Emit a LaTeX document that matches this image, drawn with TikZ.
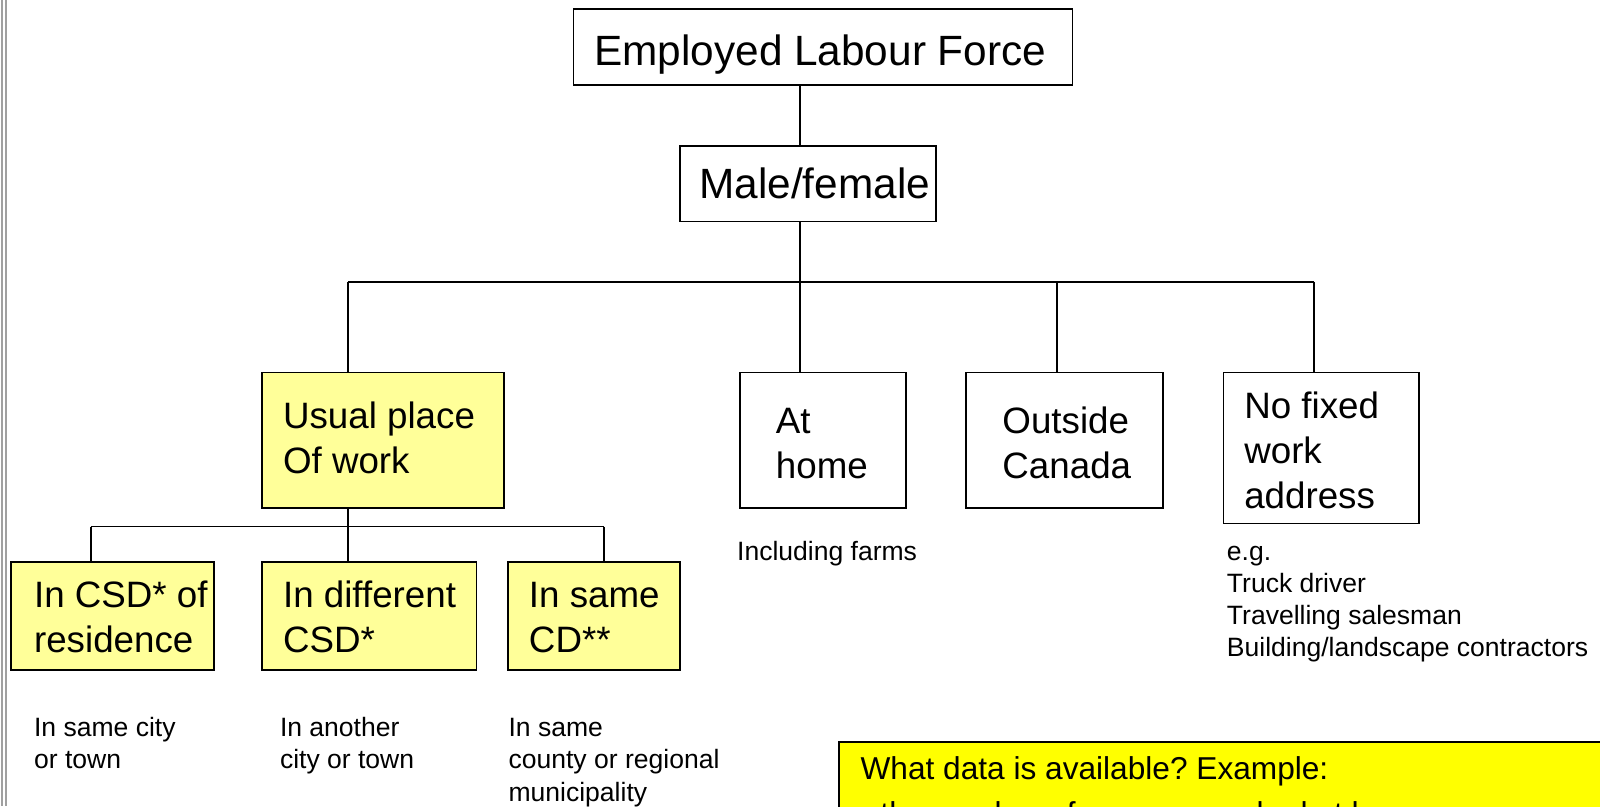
\documentclass[tikz,border=0pt]{standalone}
\usepackage{fontspec}
\setmainfont{Liberation Sans}
\frenchspacing
\usetikzlibrary{fit}
\definecolor{lightyel}{HTML}{FFFF99}
\definecolor{noteyel}{HTML}{FFFF00}
\definecolor{edgegrey}{HTML}{A0A0A0}
\tikzset{
  boxnode/.style={draw=black, line width=0.9pt, inner sep=0pt},
  yelbox/.style={boxnode, fill=lightyel},
  bigtxt/.style={font=\fontsize{20.75pt}{22pt}\selectfont, inner sep=0pt, anchor=base west},
  medtxt/.style={font=\fontsize{18pt}{22pt}\selectfont, inner sep=0pt, anchor=base west},
  smalltxt/.style={font=\fontsize{13pt}{15.75pt}\selectfont, inner sep=0pt, anchor=base west},
  notetxt/.style={font=\fontsize{15.5pt}{22pt}\selectfont, inner sep=0pt, anchor=base west},
  conn/.style={line width=0.9pt},
}
% #1 style, #2 name prefix, #3 x, #4 first baseline, #5 line step, #6 lines
\newcommand\txtlines[6]{%
  \foreach \l [count=\i from 0] in {#6} {
    \node[#1] (#2-\i) at (#3, #4+\i*#5) {\l};
  }%
}
\begin{document}
\begin{tikzpicture}[x=0.5pt, y=-0.5pt]
\clip (0,0) rectangle (1568,790);
\useasboundingbox (0,0) rectangle (1568,790);

% left edge grey double line
\draw[edgegrey, line width=0.8pt] (1.8,0) -- (1.8,790);
\draw[edgegrey, line width=0.8pt] (5.8,0) -- (5.8,790);

% boxes
\node[boxnode, fit={(562,9) (1051,83)}] (title) {};
\node[boxnode, fit={(666,143) (917,217)}] (male) {};
\node[yelbox, fit={(257,365) (494,498)}] (usual) {};
\node[boxnode, fit={(725,365) (888,498)}] (athome) {};
\node[boxnode, fit={(947,365) (1140,498)}] (outside) {};
\node[boxnode, fit={(1199,365) (1391,513)}] (nofixed) {};
\node[yelbox, fit={(11,551) (210,657)}] (csd) {};
\node[yelbox, fit={(257,551) (467,657)}] (diff) {};
\node[yelbox, fit={(498,551) (666,657)}] (same) {};
\node[boxnode, fill=noteyel, fit={(822,727) (1590,840)}] (note) {};

% box texts
\txtlines{bigtxt}{tt}{582}{64}{44}{Employed Labour Force}
\txtlines{bigtxt}{mt}{685}{195}{44}{Male/female}
\txtlines{medtxt}{ut}{277}{420}{44}{Usual place, Of work}
\txtlines{medtxt}{at}{760}{425}{44}{At, home}
\txtlines{medtxt}{ot}{982}{425}{44}{Outside, Canada}
\txtlines{medtxt}{nt}{1219}{410}{44}{No fixed, work, address}
\txtlines{medtxt}{ct}{33}{595}{44}{In CSD* of, residence}
\txtlines{medtxt}{dt}{277}{595}{44}{In different, CSD*}
\txtlines{medtxt}{st}{518}{595}{44}{In same, CD**}

% small notes
\txtlines{smalltxt}{s1}{33}{722}{31.5}{In same city, or town}
\txtlines{smalltxt}{s2}{274}{722}{31.5}{In another, city or town}
\txtlines{smalltxt}{s3}{498}{722}{31.5}{In same, county or regional, municipality}
\txtlines{smalltxt}{s4}{722}{549}{31.5}{Including farms}
\txtlines{smalltxt}{s5}{1202}{549}{31.5}{e.g., Truck driver, Travelling salesman, Building/landscape contractors}

% note text
\txtlines{notetxt}{nn}{843}{764}{44}{What data is available? Example:, \textbullet\ the number of persons worked at home}

% connectors
\coordinate (b1) at (784,276);
\coordinate (bL) at (341,276);
\coordinate (b3) at (1036,276);
\coordinate (bR) at (1288,276);
\coordinate (c1) at (89,516);
\coordinate (c2) at (341,516);
\coordinate (c3) at (592,516);

\draw[conn] (title.south -| b1) -- (male.north -| b1);
\draw[conn] (male.south -| b1) -- (b1);
\draw[conn] (bL) -- (bR);
\draw[conn] (bL) -- (usual.north -| bL);
\draw[conn] (b1) -- (athome.north -| b1);
\draw[conn] (b3) -- (outside.north -| b3);
\draw[conn] (bR) -- (nofixed.north -| bR);

\draw[conn] (usual.south -| c2) -- (c2);
\draw[conn] (c1) -- (c3);
\draw[conn] (c1) -- (csd.north -| c1);
\draw[conn] (c2) -- (diff.north -| c2);
\draw[conn] (c3) -- (same.north -| c3);
\end{tikzpicture}
\end{document}
